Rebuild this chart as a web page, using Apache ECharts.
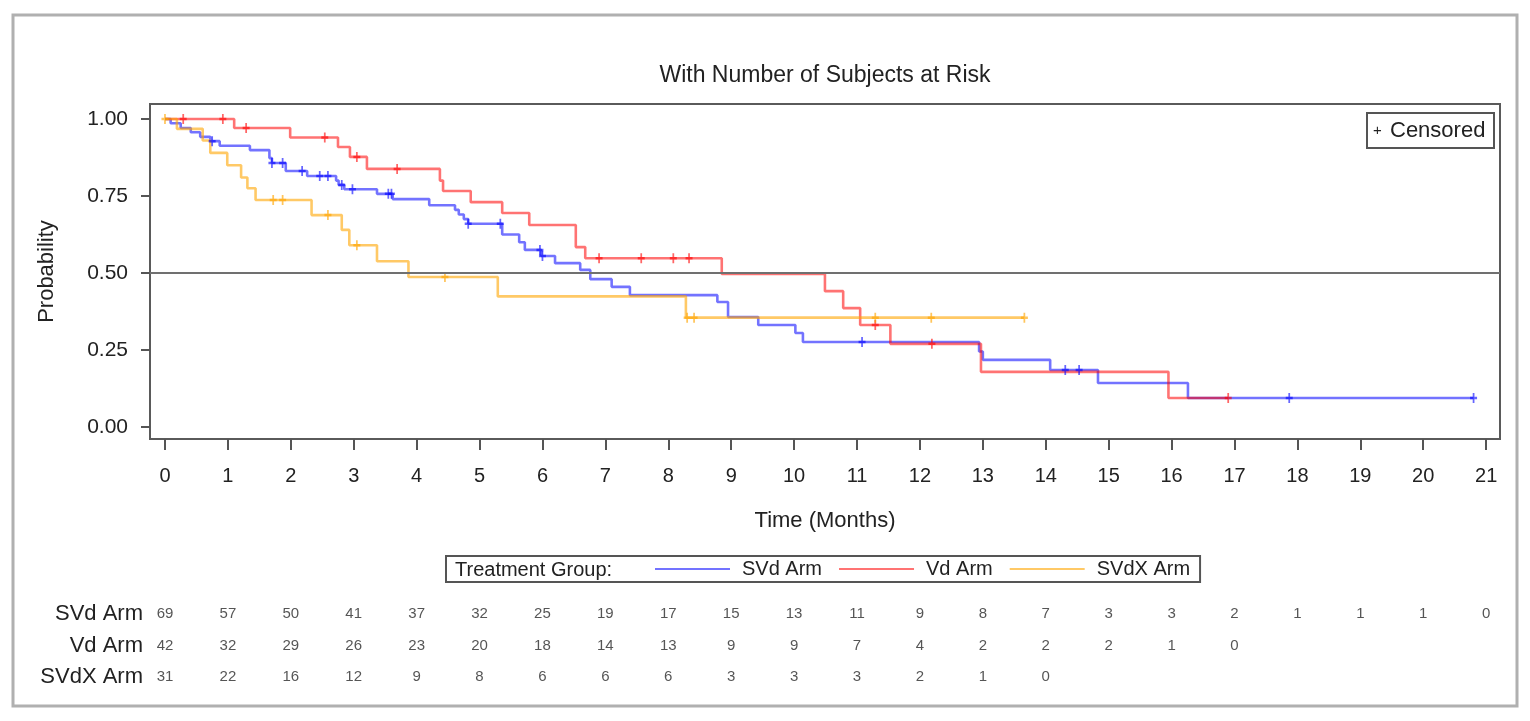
<!DOCTYPE html>
<html>
<head>
<meta charset="utf-8">
<script src="https://cdn.jsdelivr.net/npm/echarts@6/dist/echarts.min.js"></script>
<style>
html,body{margin:0;padding:0;background:#fff;}
#chart{width:1530px;height:721px;}
</style>
</head>
<body>
<div id="chart"></div>
<script>
// ---------- data ----------
const xTicks = [0,1,2,3,4,5,6,7,8,9,10,11,12,13,14,15,16,17,18,19,20,21];
const yTicks = [0,0.25,0.5,0.75,1];
const groups = ['SVd Arm','Vd Arm','SVdX Arm'];

const svdTimes = [0,0.09,0.25,0.41,0.56,0.72,0.87,1.35,1.66,1.70,1.92,2.26,2.72,2.76,2.85,3.37,3.62,4.2,4.61,4.67,4.75,4.82,5.36,5.63,5.72,5.98,6.2,6.6,6.76,7.1,7.39,8.78,8.95,9.43,10.02,10.14,12.94,13.0,14.07,14.83,16.26,20.8];
const svdSurv  = [1,0.986,0.971,0.957,0.942,0.928,0.913,0.899,0.873,0.857,0.831,0.815,0.80,0.786,0.772,0.757,0.74,0.72,0.705,0.69,0.675,0.66,0.625,0.60,0.575,0.555,0.532,0.51,0.48,0.455,0.428,0.406,0.357,0.331,0.305,0.276,0.245,0.218,0.185,0.143,0.094,0.094];
const svdCens  = [0.75,1.7,1.87,2.18,2.46,2.59,2.81,2.98,3.55,3.6,4.82,5.33,5.96,6.0,11.08,14.31,14.53,17.87,20.8];

const vdTimes = [0,1.1,1.99,2.75,2.94,3.21,4.37,4.42,4.86,5.36,5.79,6.53,6.68,8.85,10.49,10.78,11.05,11.53,12.97,15.95,16.9];
const vdSurv  = [1,0.971,0.94,0.909,0.877,0.838,0.80,0.766,0.73,0.695,0.656,0.584,0.548,0.497,0.441,0.386,0.331,0.27,0.179,0.094,0.094];
const vdCens  = [0.29,0.92,1.29,2.54,3.05,3.69,6.9,7.57,8.08,8.33,11.29,12.19,16.9];

const svdxTimes = [0,0.19,0.6,0.72,0.99,1.21,1.31,1.44,2.33,2.81,2.93,3.37,3.87,5.29,8.28,13.66];
const svdxSurv  = [1,0.968,0.93,0.89,0.85,0.81,0.775,0.737,0.688,0.64,0.59,0.538,0.487,0.424,0.355,0.355];
const svdxCens  = [0,1.72,1.87,2.59,3.05,4.45,8.3,8.41,11.29,12.18,13.66];

const svdRisk  = [69,57,50,41,37,32,25,19,17,15,13,11,9,8,7,3,3,2,1,1,1,0];
const vdRisk   = [42,32,29,26,23,20,18,14,13,9,9,7,4,2,2,2,1,0];
const svdxRisk = [31,22,16,12,9,8,6,6,6,3,3,3,2,1,0];

// ---------- helpers ----------
const FONT = "'Liberation Sans', Arial, Helvetica, sans-serif";
const TXT = '#222';
const COLORS = ['rgba(0,0,255,0.55)','rgba(255,0,0,0.55)','rgba(255,165,0,0.6)'];
const CENS_COLORS = ['rgba(0,0,255,0.75)','rgba(255,0,0,0.75)','rgba(255,165,0,0.8)'];
const PLUS = 'path://M3,0h2v3h3v2h-3v3h-2v-3h-3v-2h3z';

function zip(t, s){ return t.map((v,i)=>[v, s[i]]); }
function survAt(times, vals, t){
  let s = vals[0];
  for (let i=0;i<times.length;i++){ if (times[i] <= t) s = vals[i]; }
  return s;
}
function censPts(times, vals, cens){ return cens.map(t=>[t, survAt(times, vals, t)]); }
function riskPts(arr, row){ return arr.map((n,i)=>[xTicks[i], row, n]); }

const curves = [[svdTimes,svdSurv,svdCens],[vdTimes,vdSurv,vdCens],[svdxTimes,svdxSurv,svdxCens]];
const risks = [svdRisk, vdRisk, svdxRisk];

const series = [];
curves.forEach((c,i)=>{
  const s = {
    name: groups[i], type:'line', step:'end', xAxisIndex:0, yAxisIndex:0,
    data: zip(c[0], c[1]), showSymbol:false, symbol:'none',
    itemStyle:{color:COLORS[i]}, lineStyle:{color:COLORS[i], width:2.6},
    animation:false, z:3
  };
  if (i===0){
    s.markLine = {silent:true, symbol:'none', label:{show:false},
      lineStyle:{color:'#707070', width:2, type:'solid'}, data:[{yAxis:0.5}], animation:false};
  }
  series.push(s);
});
curves.forEach((c,i)=>{
  series.push({
    name: groups[i]+' censored', type:'scatter', xAxisIndex:0, yAxisIndex:0,
    data: censPts(c[0], c[1], c[2]), symbol: PLUS, symbolSize:[7,10],
    itemStyle:{color:CENS_COLORS[i]}, animation:false, z:4
  });
});
risks.forEach((r,i)=>{
  series.push({
    name: groups[i]+' risk', type:'scatter', xAxisIndex:1, yAxisIndex:1,
    data: riskPts(r, groups[i]), symbolSize:1, itemStyle:{color:'transparent'},
    label:{show:true, position:'inside', formatter:p=>String(p.value[2]),
      fontSize:15, color:'#2a2a2a', fontFamily:FONT},
    animation:false
  });
});

const option = {
  backgroundColor:'#fff',
  animation:false,
  grid:[
    {left:150, top:104, width:1350, height:335, show:true, borderColor:'#5a5a5a', borderWidth:2, backgroundColor:'#fff'},
    {left:150, top:598, width:1350, height:95}
  ],
  xAxis:[
    {gridIndex:0, type:'value', min:-0.238, max:21.22, position:'bottom',
      axisLine:{show:true, onZero:false, lineStyle:{color:'#5a5a5a', width:2}},
      axisTick:{show:true, length:11, lineStyle:{color:'#555', width:2}, customValues:xTicks},
      axisLabel:{customValues:xTicks, fontSize:20, color:TXT, margin:27, fontFamily:FONT},
      splitLine:{show:false},
      name:'Time (Months)', nameLocation:'middle', nameGap:71,
      nameTextStyle:{fontSize:22, color:TXT, fontFamily:FONT}},
    {gridIndex:1, type:'value', min:-0.238, max:21.22, show:false}
  ],
  yAxis:[
    {gridIndex:0, type:'value', min:-0.039, max:1.0487, position:'left',
      axisLine:{show:true, onZero:false, lineStyle:{color:'#5a5a5a', width:2}},
      axisTick:{show:true, length:9, lineStyle:{color:'#555', width:2}, customValues:yTicks},
      axisLabel:{customValues:yTicks, formatter:v=>Number(v).toFixed(2), fontSize:21, color:TXT, margin:22, fontFamily:FONT},
      splitLine:{show:false},
      name:'Probability', nameLocation:'middle', nameGap:92, nameRotate:90,
      nameTextStyle:{fontSize:22, color:TXT, fontFamily:FONT}},
    {gridIndex:1, type:'category', data:groups, inverse:true,
      axisLine:{show:false}, axisTick:{show:false}, splitLine:{show:false},
      axisLabel:{fontSize:22, color:TXT, margin:7, fontFamily:FONT}}
  ],
  legend:{
    data:groups, left:446, top:556, orient:'horizontal', icon:'rect',
    itemWidth:75, itemHeight:2, itemGap:17, padding:[3,10,3,209],
    borderColor:'#555', borderWidth:2, backgroundColor:'#fff',
    textStyle:{fontSize:20, color:TXT, fontFamily:FONT, padding:[0,0,0,7]},
    selectedMode:false
  },
  graphic:[
    {type:'rect', shape:{x:13, y:15, width:1504, height:691}, style:{fill:'none', stroke:'#b0b0b0', lineWidth:3}, z:-10, silent:true},
    {type:'text', x:825, y:76, style:{text:'With Number of Subjects at Risk', fontSize:23, fill:TXT, fontFamily:FONT, textAlign:'center', textVerticalAlign:'middle'}, z:10},
    {type:'rect', shape:{x:1367, y:113, width:127, height:35}, style:{fill:'#fff', stroke:'#555', lineWidth:2}, z:10},
    {type:'text', x:1373, y:131, style:{text:'+', fontSize:15, fill:TXT, fontFamily:FONT, textVerticalAlign:'middle'}, z:11},
    {type:'text', x:1390, y:131, style:{text:'Censored', fontSize:22, fill:TXT, fontFamily:FONT, textVerticalAlign:'middle'}, z:11},
    {type:'text', x:455, y:570, style:{text:'Treatment Group:', fontSize:20, fill:TXT, fontFamily:FONT, textVerticalAlign:'middle'}, z:10}
  ],
  series: series
};

const chart = echarts.init(document.getElementById('chart'), null, {renderer:'canvas'});
chart.setOption(option);
</script>
</body>
</html>
